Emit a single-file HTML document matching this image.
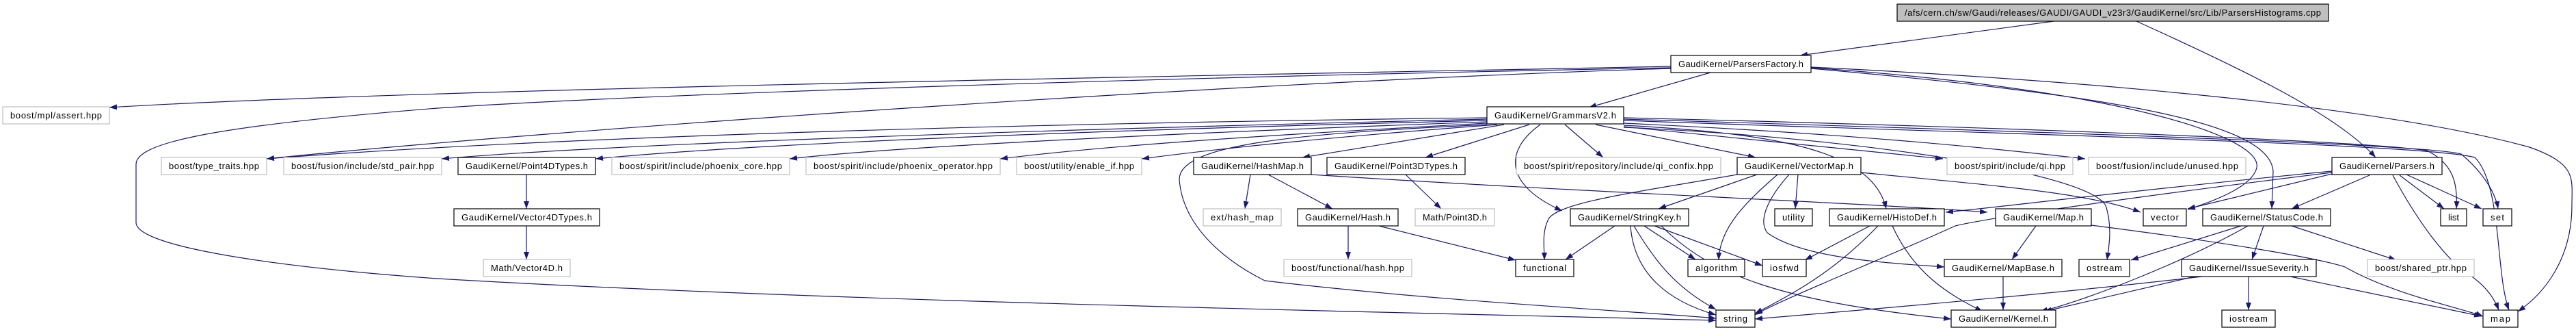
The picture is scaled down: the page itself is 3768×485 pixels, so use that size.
<!DOCTYPE html>
<html><head><meta charset="utf-8"><style>
html,body{margin:0;padding:0;background:#fff;width:3768px;height:485px;overflow:hidden}
text{font-family:"Liberation Sans","DejaVu Sans",sans-serif;font-size:13px;fill:#000}
</style></head><body>
<svg xmlns="http://www.w3.org/2000/svg" width="3768" height="485" viewBox="0 0 3768 485">
<defs><marker id="a" markerWidth="11" markerHeight="8" refX="11" refY="4" orient="auto" markerUnits="userSpaceOnUse"><path d="M0,0 L11,4 L0,8 z" fill="#191970"/></marker></defs>
<g fill="none" stroke="#191970" stroke-width="1.2" marker-end="url(#a)">
<path d="M3004,31 L2633,81"/>
<path d="M3125,31 C3300,110 3420,170 3475,230"/>
<path d="M2502,106 L2324,157"/>
<path d="M2444,97 C1800,110 600,130 160,157"/>
<path d="M2444,100 C1800,120 800,190 390,232"/>
<path d="M2444,99 C1600,115 900,140 640,158 C300,185 199,210 199,240 L199,325 C199,360 400,390 640,407 C1200,440 2000,455 2510,468"/>
<path d="M2649,98 C3100,120 3500,160 3700,215 C3770,240 3762,260 3762,300 C3762,380 3720,430 3683,455"/>
<path d="M2649,99 C3100,130 3310,200 3301,245 C3295,270 3250,290 3200,306"/>
<path d="M2649,100 C3100,140 3320,180 3325,250 L3323,305"/>
<path d="M2175,172 C1500,180 800,200 390,232"/>
<path d="M2175,174 C1500,190 900,210 646,232"/>
<path d="M2175,176 C1600,190 1100,210 871,232"/>
<path d="M2175,178 C1700,195 1300,215 1155,232"/>
<path d="M2175,180 C1800,200 1600,215 1463,232"/>
<path d="M2190,182 C1950,200 1800,215 1670,232"/>
<path d="M2200,182 L1905,230"/>
<path d="M2237,182 L2085,230"/>
<path d="M2289,182 L2345,230"/>
<path d="M2253,182 C2200,220 2200,270 2285,308"/>
<path d="M2334,182 L2568,230"/>
<path d="M2375,185 L2842,232"/>
<path d="M2375,180 C2700,195 2900,215 3050,232"/>
<path d="M2375,183 C2600,195 2740,220 2759,305"/>
<path d="M2375,186 C2700,200 3050,250 3080,300 C3090,330 3085,360 3082,380"/>
<path d="M2375,172 C2900,185 3450,205 3550,220 C3590,240 3595,270 3593,305"/>
<path d="M2375,174 C2900,190 3550,210 3600,225 C3630,250 3650,280 3654,305"/>
<path d="M2375,176 C2900,195 3550,210 3620,230 C3660,270 3650,400 3670,453"/>
<path d="M2175,182 C1900,195 1725,210 1725,262 C1730,330 1790,380 1850,410 C2100,440 2400,455 2510,465"/>
<path d="M2541,255 C2400,280 2280,295 2265,320 C2255,340 2259,360 2259,380"/>
<path d="M2570,255 L2426,305"/>
<path d="M2600,255 C2560,290 2515,330 2514,380"/>
<path d="M2630,255 L2626,305"/>
<path d="M2617,255 C2590,285 2570,320 2585,340 C2640,380 2780,385 2844,390"/>
<path d="M2722,252 C2900,270 3050,280 3131,310"/>
<path d="M1829,255 L1821,305"/>
<path d="M1855,255 L1949,305"/>
<path d="M1918,255 C2300,280 2700,295 2907,310"/>
<path d="M2017,330 L2217,380"/>
<path d="M1972,330 L1972,379"/>
<path d="M2056,255 L2108,305"/>
<path d="M770,255 L770,305"/>
<path d="M770,330 L770,379"/>
<path d="M2362,330 L2290,379"/>
<path d="M2405,330 L2480,379"/>
<path d="M2385,330 C2390,400 2440,440 2510,460"/>
<path d="M2390,330 C2420,380 2450,420 2510,452"/>
<path d="M2420,330 L2578,388"/>
<path d="M2430,330 C2500,400 2600,440 2854,466"/>
<path d="M2735,330 L2640,380"/>
<path d="M2747,330 C2680,400 2620,430 2567,458"/>
<path d="M2768,330 C2800,400 2850,430 2900,455"/>
<path d="M2978,330 L2943,379"/>
<path d="M3059,329 C3300,360 3400,380 3430,390 C3500,430 3600,450 3632,462"/>
<path d="M2930,404 L2930,453"/>
<path d="M3411,250 C3100,280 2950,300 2846,310"/>
<path d="M3411,252 C3100,290 2900,320 2860,330 C2750,380 2600,440 2567,460"/>
<path d="M3411,254 L3200,305"/>
<path d="M3466,256 L3352,305"/>
<path d="M3510,256 L3575,305"/>
<path d="M3520,255 L3630,305"/>
<path d="M3500,256 C3540,330 3580,380 3610,400 C3640,420 3650,440 3655,453"/>
<path d="M3278,330 L3117,380"/>
<path d="M3288,330 C3200,380 3050,440 2984,455"/>
<path d="M3311,330 L3294,379"/>
<path d="M3352,330 L3505,380"/>
<path d="M3221,404 C3000,430 2700,455 2567,466"/>
<path d="M3210,404 L2990,455"/>
<path d="M3289,404 L3289,453"/>
<path d="M3350,404 L3630,462"/>
</g>
<g stroke-width="1.2">
<rect x="2775" y="6" width="631" height="25" fill="#bfbfbf" stroke="#000"/><text x="3090.5" y="23" text-anchor="middle" textLength="609">/afs/cern.ch/sw/Gaudi/releases/GAUDI/GAUDI_v23r3/GaudiKernel/src/Lib/ParsersHistograms.cpp</text>
<rect x="2444" y="81" width="205" height="25" fill="#fff" stroke="#000"/><text x="2546.5" y="98" text-anchor="middle" textLength="183">GaudiKernel/ParsersFactory.h</text>
<rect x="4" y="156" width="156" height="25" fill="#fff" stroke="#bfbfbf"/><text x="82" y="173" text-anchor="middle" textLength="134">boost/mpl/assert.hpp</text>
<rect x="2175" y="156" width="200" height="25" fill="#fff" stroke="#000"/><text x="2275" y="173" text-anchor="middle" textLength="178">GaudiKernel/GrammarsV2.h</text>
<rect x="236" y="230" width="154" height="25" fill="#fff" stroke="#bfbfbf"/><text x="313" y="247" text-anchor="middle" textLength="132">boost/type_traits.hpp</text>
<rect x="415" y="230" width="231" height="25" fill="#fff" stroke="#bfbfbf"/><text x="530.5" y="247" text-anchor="middle" textLength="209">boost/fusion/include/std_pair.hpp</text>
<rect x="670" y="230" width="201" height="25" fill="#fff" stroke="#000"/><text x="770.5" y="247" text-anchor="middle" textLength="179">GaudiKernel/Point4DTypes.h</text>
<rect x="895" y="230" width="260" height="25" fill="#fff" stroke="#bfbfbf"/><text x="1025" y="247" text-anchor="middle" textLength="238">boost/spirit/include/phoenix_core.hpp</text>
<rect x="1179" y="230" width="284" height="25" fill="#fff" stroke="#bfbfbf"/><text x="1321" y="247" text-anchor="middle" textLength="262">boost/spirit/include/phoenix_operator.hpp</text>
<rect x="1487" y="230" width="183" height="25" fill="#fff" stroke="#bfbfbf"/><text x="1578.5" y="247" text-anchor="middle" textLength="161">boost/utility/enable_if.hpp</text>
<rect x="1746" y="230" width="172" height="25" fill="#fff" stroke="#000"/><text x="1832" y="247" text-anchor="middle" textLength="150">GaudiKernel/HashMap.h</text>
<rect x="1941" y="230" width="202" height="25" fill="#fff" stroke="#000"/><text x="2042" y="247" text-anchor="middle" textLength="180">GaudiKernel/Point3DTypes.h</text>
<rect x="2218" y="230" width="299" height="25" fill="#fff" stroke="#bfbfbf"/><text x="2367.5" y="247" text-anchor="middle" textLength="277">boost/spirit/repository/include/qi_confix.hpp</text>
<rect x="2541" y="230" width="181" height="25" fill="#fff" stroke="#000"/><text x="2631.5" y="247" text-anchor="middle" textLength="159">GaudiKernel/VectorMap.h</text>
<rect x="2848" y="230" width="184" height="25" fill="#fff" stroke="#bfbfbf"/><text x="2940" y="247" text-anchor="middle" textLength="162">boost/spirit/include/qi.hpp</text>
<rect x="3055" y="230" width="230" height="25" fill="#fff" stroke="#bfbfbf"/><text x="3170" y="247" text-anchor="middle" textLength="208">boost/fusion/include/unused.hpp</text>
<rect x="3411" y="230" width="161" height="25" fill="#fff" stroke="#000"/><text x="3491.5" y="247" text-anchor="middle" textLength="139">GaudiKernel/Parsers.h</text>
<rect x="664" y="305" width="213" height="25" fill="#fff" stroke="#000"/><text x="770.5" y="322" text-anchor="middle" textLength="191">GaudiKernel/Vector4DTypes.h</text>
<rect x="1760" y="305" width="114" height="25" fill="#fff" stroke="#bfbfbf"/><text x="1817" y="322" text-anchor="middle" textLength="92">ext/hash_map</text>
<rect x="1898" y="305" width="147" height="25" fill="#fff" stroke="#000"/><text x="1971.5" y="322" text-anchor="middle" textLength="125">GaudiKernel/Hash.h</text>
<rect x="2070" y="305" width="116" height="25" fill="#fff" stroke="#bfbfbf"/><text x="2128" y="322" text-anchor="middle" textLength="94">Math/Point3D.h</text>
<rect x="2297" y="305" width="173" height="25" fill="#fff" stroke="#000"/><text x="2383.5" y="322" text-anchor="middle" textLength="151">GaudiKernel/StringKey.h</text>
<rect x="2596" y="305" width="55" height="25" fill="#fff" stroke="#000"/><text x="2623.5" y="322" text-anchor="middle" textLength="33">utility</text>
<rect x="2676" y="305" width="168" height="25" fill="#fff" stroke="#000"/><text x="2760" y="322" text-anchor="middle" textLength="146">GaudiKernel/HistoDef.h</text>
<rect x="2919" y="305" width="140" height="25" fill="#fff" stroke="#000"/><text x="2989" y="322" text-anchor="middle" textLength="118">GaudiKernel/Map.h</text>
<rect x="3135" y="305" width="63" height="25" fill="#fff" stroke="#000"/><text x="3166.5" y="322" text-anchor="middle" textLength="41">vector</text>
<rect x="3222" y="305" width="187" height="25" fill="#fff" stroke="#000"/><text x="3315.5" y="322" text-anchor="middle" textLength="165">GaudiKernel/StatusCode.h</text>
<rect x="3570" y="305" width="38" height="25" fill="#fff" stroke="#000"/><text x="3589" y="322" text-anchor="middle" textLength="16">list</text>
<rect x="3632" y="305" width="42" height="25" fill="#fff" stroke="#000"/><text x="3653" y="322" text-anchor="middle" textLength="20">set</text>
<rect x="707" y="379" width="127" height="25" fill="#fff" stroke="#bfbfbf"/><text x="770.5" y="396" text-anchor="middle" textLength="105">Math/Vector4D.h</text>
<rect x="1878" y="379" width="187" height="25" fill="#fff" stroke="#bfbfbf"/><text x="1971.5" y="396" text-anchor="middle" textLength="165">boost/functional/hash.hpp</text>
<rect x="2217" y="379" width="85" height="25" fill="#fff" stroke="#000"/><text x="2259.5" y="396" text-anchor="middle" textLength="63">functional</text>
<rect x="2469" y="379" width="83" height="25" fill="#fff" stroke="#000"/><text x="2510.5" y="396" text-anchor="middle" textLength="61">algorithm</text>
<rect x="2578" y="379" width="64" height="25" fill="#fff" stroke="#000"/><text x="2610" y="396" text-anchor="middle" textLength="42">iosfwd</text>
<rect x="2844" y="379" width="172" height="25" fill="#fff" stroke="#000"/><text x="2930" y="396" text-anchor="middle" textLength="150">GaudiKernel/MapBase.h</text>
<rect x="3041" y="379" width="74" height="25" fill="#fff" stroke="#000"/><text x="3078" y="396" text-anchor="middle" textLength="52">ostream</text>
<rect x="3191" y="379" width="197" height="25" fill="#fff" stroke="#000"/><text x="3289.5" y="396" text-anchor="middle" textLength="175">GaudiKernel/IssueSeverity.h</text>
<rect x="3463" y="379" width="156" height="25" fill="#fff" stroke="#bfbfbf"/><text x="3541" y="396" text-anchor="middle" textLength="134">boost/shared_ptr.hpp</text>
<rect x="2510" y="453" width="57" height="25" fill="#fff" stroke="#000"/><text x="2538.5" y="470" text-anchor="middle" textLength="35">string</text>
<rect x="2854" y="453" width="153" height="25" fill="#fff" stroke="#000"/><text x="2930.5" y="470" text-anchor="middle" textLength="131">GaudiKernel/Kernel.h</text>
<rect x="3250" y="453" width="78" height="25" fill="#fff" stroke="#000"/><text x="3289" y="470" text-anchor="middle" textLength="56">iostream</text>
<rect x="3632" y="453" width="51" height="25" fill="#fff" stroke="#000"/><text x="3657.5" y="470" text-anchor="middle" textLength="29">map</text>
</g>
</svg>
</body></html>
